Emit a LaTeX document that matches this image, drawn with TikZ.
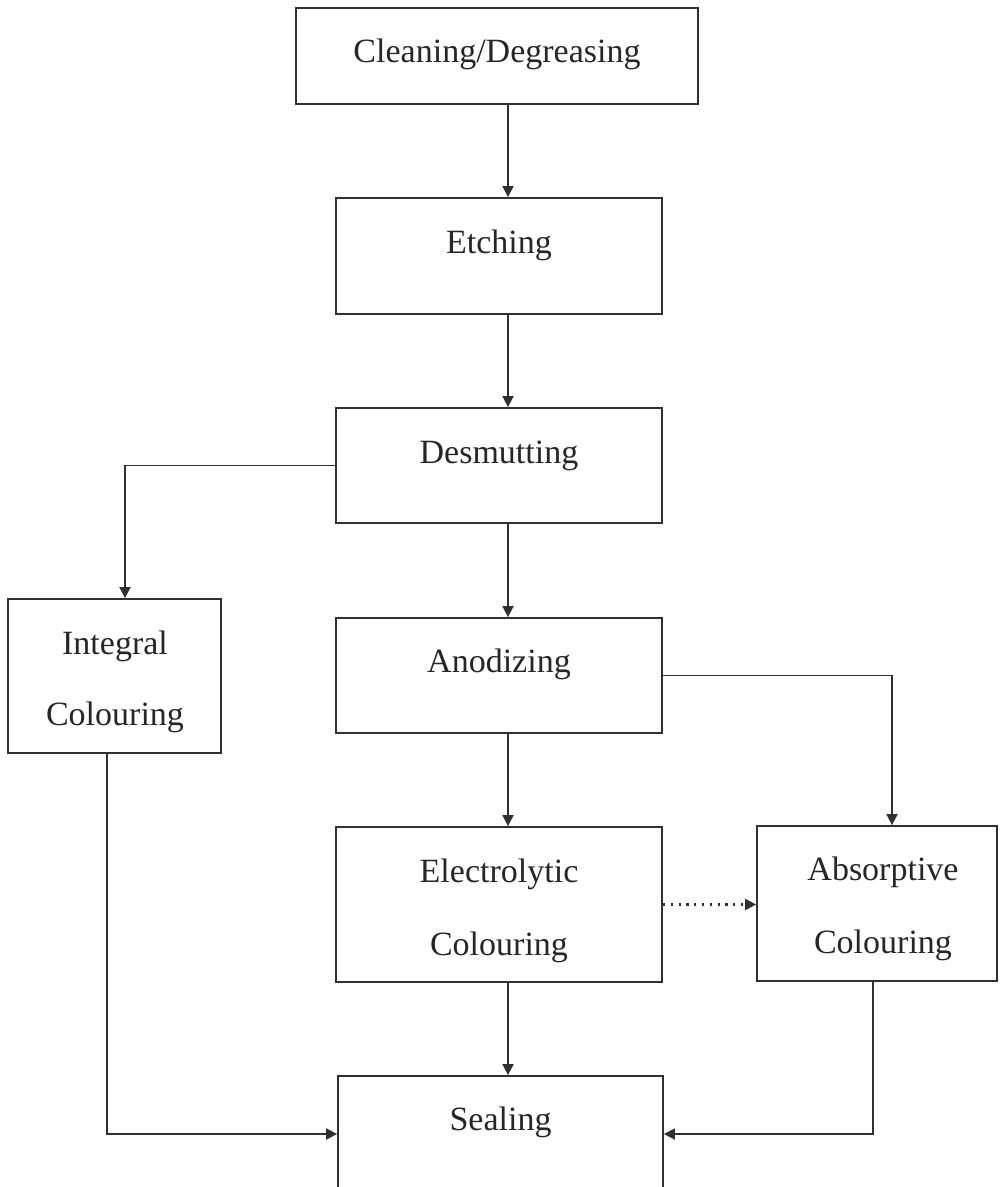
\documentclass[tikz,border=0pt]{standalone}
\usepackage{fontspec}
\setmainfont{Liberation Serif}
\usetikzlibrary{arrows.meta,calc}
\definecolor{linec}{HTML}{303030}
\definecolor{textc}{HTML}{262626}
\begin{document}
\begin{tikzpicture}[x=0.5pt,y=-0.5pt,
  box/.style={draw=linec,line width=0.9pt,rectangle,inner sep=0pt},
  lbl/.style={anchor=base,inner sep=0pt,text=textc,font=\fontsize{17pt}{20pt}\selectfont},
  arr/.style={draw=linec,line width=0.9pt,-{Triangle[length=5.5pt,width=5.5pt]}},
  dotarr/.style={draw=linec,line width=1.1pt,dash pattern=on 1.1pt off 2.8pt,-{Triangle[length=5.5pt,width=5.5pt]}}]
\useasboundingbox (0,0) rectangle (1000,1187);
\clip (0,0) rectangle (1000,1187);
\fill[white] (0,0) rectangle (1000,1187);
% boxes
\node[box,minimum width=201pt,minimum height=48pt] (clean) at (497,56) {};
\node[box,minimum width=163pt,minimum height=58pt] (etch) at (499,256) {};
\node[box,minimum width=163pt,minimum height=57.5pt] (desm) at (499,465.5) {};
\node[box,minimum width=163pt,minimum height=57.5pt] (anod) at (499,675.5) {};
\node[box,minimum width=163pt,minimum height=77.5pt] (elec) at (499,904.5) {};
\node[box,minimum width=106.5pt,minimum height=77pt] (integ) at (114.5,676) {};
\node[box,minimum width=120pt,minimum height=77.5pt] (abs) at (877,903.5) {};
\node[box,minimum width=162.5pt,minimum height=58pt] (seal) at (500.5,1134) {};
% texts
\node[lbl] (tclean) at (497,63) {Cleaning/Degreasing};
\node[lbl] (tetch) at (499,254) {Etching};
\node[lbl] (tdesm) at (499,463) {Desmutting};
\node[lbl] (tanod) at (499,672) {Anodizing};
\node[lbl] (telec1) at (499,882) {Electrolytic};
\node[lbl] (telec2) at (499,955) {Colouring};
\node[lbl] (tint1) at (115,654) {Integral};
\node[lbl] (tint2) at (115,725) {Colouring};
\node[lbl] (tabs1) at (883,880) {Absorptive};
\node[lbl] (tabs2) at (883,953) {Colouring};
\node[lbl] (tseal) at (500.5,1130) {Sealing};
% connectors
\coordinate (xc) at (508,0);
\draw[arr] (clean.south -| xc) -- (etch.north -| xc);
\draw[arr] (etch.south -| xc) -- (desm.north -| xc);
\draw[arr] (desm.south -| xc) -- (anod.north -| xc);
\draw[arr] (anod.south -| xc) -- (elec.north -| xc);
\draw[arr] (elec.south -| xc) -- (seal.north -| xc);
\draw[arr] (desm.west) -| ($(integ.north)+(10.5,0)$);
\draw[arr] (anod.east) -| ($(abs.north)+(15,0)$);
\draw[dotarr] (elec.east) -- (abs.west |- elec.east);
\draw[arr] ($(integ.south)+(-7.5,0)$) |- (seal.west);
\draw[arr] ($(abs.south)+(-4,0)$) |- (seal.east);
\end{tikzpicture}
\end{document}
